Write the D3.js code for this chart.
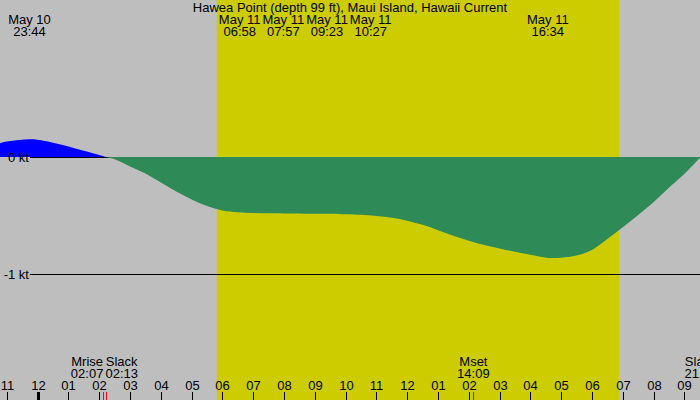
<!DOCTYPE html>
<html>
<head>
<meta charset="utf-8">
<script src="https://cdn.jsdelivr.net/npm/d3@7"></script>
<style>
  body { margin: 0; background: #bebebe; }
  svg { display: block; font-family: "Liberation Sans", Arial, sans-serif; font-size: 13px; }
</style>
</head>
<body>
<svg id="chart" width="700" height="400"></svg>
<script>
const title = 'Hawea Point (depth 99 ft), Maui Island, Hawaii Current'

// current speed in knots, + is flood, - is ebb
const flowTimes = [
  '2025-05-10 22:45', '2025-05-10 23:00', '2025-05-10 23:30', '2025-05-10 23:44',
  '2025-05-11 00:00', '2025-05-11 00:30', '2025-05-11 01:00', '2025-05-11 01:30',
  '2025-05-11 02:00', '2025-05-11 02:13', '2025-05-11 02:30', '2025-05-11 03:00',
  '2025-05-11 03:30', '2025-05-11 04:00', '2025-05-11 04:30', '2025-05-11 05:00',
  '2025-05-11 05:30', '2025-05-11 06:00', '2025-05-11 06:30', '2025-05-11 06:58',
  '2025-05-11 07:30', '2025-05-11 08:00', '2025-05-11 09:00', '2025-05-11 10:00',
  '2025-05-11 10:30', '2025-05-11 11:00', '2025-05-11 11:30', '2025-05-11 12:00',
  '2025-05-11 12:30', '2025-05-11 13:00', '2025-05-11 13:30', '2025-05-11 14:00',
  '2025-05-11 14:30', '2025-05-11 15:00', '2025-05-11 15:30', '2025-05-11 16:00',
  '2025-05-11 16:34', '2025-05-11 17:00', '2025-05-11 17:30', '2025-05-11 18:00',
  '2025-05-11 18:30', '2025-05-11 19:00', '2025-05-11 19:30', '2025-05-11 20:00',
  '2025-05-11 20:30', '2025-05-11 21:00', '2025-05-11 21:32'
]
const flowKnots = [
  0.116, 0.132, 0.147, 0.151,
  0.147, 0.122, 0.090, 0.053,
  0.017, 0, -0.020, -0.081,
  -0.141, -0.218, -0.294, -0.362,
  -0.418, -0.456, -0.471, -0.477,
  -0.480, -0.481, -0.483, -0.487,
  -0.492, -0.503, -0.518, -0.543,
  -0.578, -0.624, -0.672, -0.714,
  -0.750, -0.780, -0.808, -0.834,
  -0.860, -0.858, -0.840, -0.792,
  -0.700, -0.598, -0.494, -0.385,
  -0.262, -0.145, 0
]

const sunrise = '2025-05-11 05:49'
const sunset = '2025-05-11 18:53'

// events along the top
const topTimes = ['2025-05-10 23:44', '2025-05-11 06:58', '2025-05-11 07:57', '2025-05-11 09:23', '2025-05-11 10:27', '2025-05-11 16:34']
const topDates = ['May 10', 'May 11', 'May 11', 'May 11', 'May 11', 'May 11']
const topClock = ['23:44', '06:58', '07:57', '09:23', '10:27', '16:34']

// events along the bottom
const bottomNames = ['Mrise', 'Slack', 'Mset', 'Slack']
const bottomTimes = ['2025-05-11 02:07', '2025-05-11 02:13', '2025-05-11 14:09', '2025-05-11 21:32']
const bottomClock = ['02:07', '02:13', '14:09', '21:32']

const knotTicks = [0, -1]
const knotLabels = ['0 kt', '-1 kt']

const W = 700
const H = 400
const parse = d3.timeParse('%Y-%m-%d %H:%M')

const x = d3.scaleTime()
  .domain([parse('2025-05-11 00:00'), parse('2025-05-11 21:00')])
  .range([37.7, 684.3])

const y = d3.scaleLinear()
  .domain([-1, 0])
  .range([274.3, 157])

const svg = d3.select('#chart')

svg.append('rect')
  .attr('width', W)
  .attr('height', H)
  .attr('fill', '#bebebe')

// daylight
svg.append('rect')
  .attr('x', x(parse(sunrise)))
  .attr('width', x(parse(sunset)) - x(parse(sunrise)))
  .attr('y', 0)
  .attr('height', H)
  .attr('fill', '#cccc00')

const flow = flowTimes.map((t, i) => ({ t: parse(t), v: flowKnots[i] }))

const area = d3.area()
  .x(d => x(d.t))
  .y0(y(0))
  .y1(d => y(d.v))
  .curve(d3.curveCatmullRom.alpha(0.5))

const defs = svg.append('defs')
defs.append('clipPath').attr('id', 'above')
  .append('rect').attr('x', 0).attr('y', 0).attr('width', W).attr('height', y(0))
defs.append('clipPath').attr('id', 'below')
  .append('rect').attr('x', 0).attr('y', y(0)).attr('width', W).attr('height', H - y(0))

svg.append('path')
  .datum(flow)
  .attr('clip-path', 'url(#above)')
  .attr('fill', '#0000ff')
  .attr('d', area)

// knot lines + labels
knotTicks.forEach((k, i) => {
  const yy = Math.round(y(k)) + 0.5
  svg.append('line')
    .attr('x1', 30).attr('x2', W)
    .attr('y1', yy).attr('y2', yy)
    .attr('stroke', '#000')
  svg.append('text')
    .attr('x', 29)
    .attr('y', yy + 4)
    .attr('text-anchor', 'end')
    .text(knotLabels[i])
})

svg.append('path')
  .datum(flow)
  .attr('clip-path', 'url(#below)')
  .attr('fill', '#2e8b57')
  .attr('d', area)

svg.append('text')
  .attr('x', W / 2)
  .attr('y', 12)
  .attr('text-anchor', 'middle')
  .text(title)

// push overlapping labels apart, keeping each group centred on its times
function spread (items, gap) {
  const layout = g => {
    let off = 0
    g.offs = g.items.map((d, j) => {
      if (j > 0) off += (g.items[j - 1].w + d.w) / 2 + gap
      return off
    })
    g.start = d3.mean(g.items, (d, j) => d.want - g.offs[j])
    g.begin = g.start - g.items[0].w / 2
    g.end = g.start + off + g.items[g.items.length - 1].w / 2
  }
  const groups = []
  items.forEach(it => {
    let g = { items: [it] }
    layout(g)
    while (groups.length && groups[groups.length - 1].end + gap > g.begin) {
      const prev = groups.pop()
      g = { items: prev.items.concat(g.items) }
      layout(g)
    }
    groups.push(g)
  })
  groups.forEach(g => g.items.forEach((d, j) => { d.pos = g.start + g.offs[j] }))
}

function eventLabels (lines1, lines2, times, y1, y2) {
  const items = times.map((t, i) => {
    const g = svg.append('g')
    const a = g.append('text').attr('y', y1).attr('text-anchor', 'middle').text(lines1[i])
    const b = g.append('text').attr('y', y2).attr('text-anchor', 'middle').text(lines2[i])
    const w = Math.max(a.node().getComputedTextLength(), b.node().getComputedTextLength())
    return { g, w, want: x(parse(t)) }
  })
  spread(items, 2)
  items.forEach(d => d.g.attr('transform', `translate(${d.pos},0)`))
}

eventLabels(topDates, topClock, topTimes, 24, 36)
eventLabels(bottomNames, bottomClock, bottomTimes, 366, 378)

// hour axis
const hours = d3.timeHour.range(parse('2025-05-10 23:00'), parse('2025-05-11 21:30'))
const fmt = d3.timeFormat('%I')

hours.forEach(h => {
  const xx = Math.round(x(h)) + 0.5
  const midnight = h.getHours() === 0
  svg.append('line')
    .attr('x1', xx).attr('x2', xx)
    .attr('y1', 392).attr('y2', H)
    .attr('stroke', '#000')
    .attr('stroke-width', midnight ? 3 : 1)
  svg.append('text')
    .attr('x', xx)
    .attr('y', 390)
    .attr('text-anchor', 'middle')
    .text(fmt(h))
})

// moon / slack marks
bottomTimes.forEach(t => {
  const xx = Math.round(x(parse(t))) + 0.5
  svg.append('line')
    .attr('x1', xx).attr('x2', xx)
    .attr('y1', 392).attr('y2', H)
    .attr('stroke', '#ff0000')
})
</script>
</body>
</html>
